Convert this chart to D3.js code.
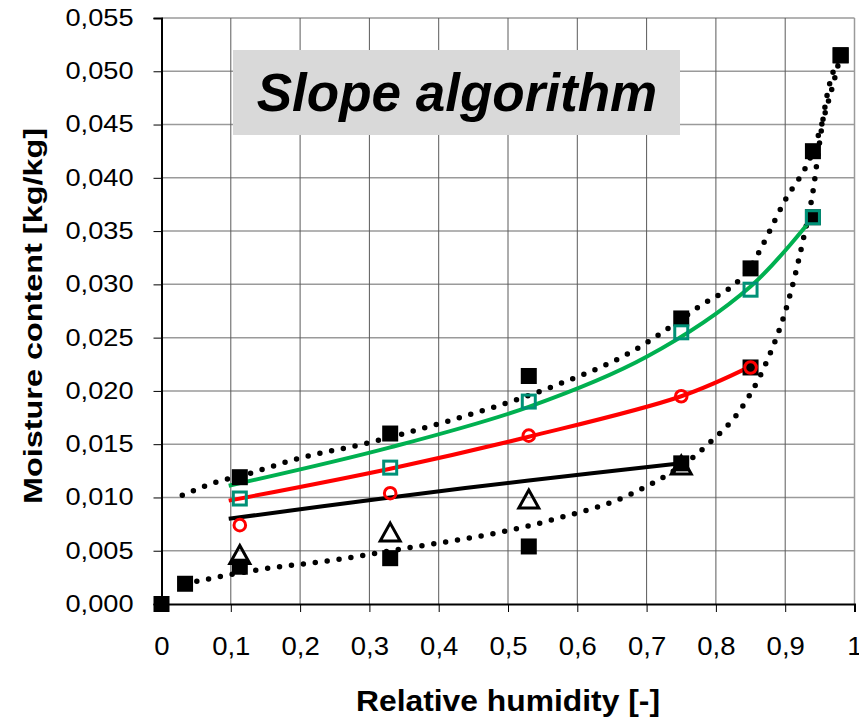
<!DOCTYPE html>
<html>
<head>
<meta charset="utf-8">
<script src="https://cdn.jsdelivr.net/npm/d3@7"></script>
<style>
  body { margin: 0; background: #fff; }
  svg { display: block; font-family: "Liberation Sans", Arial, sans-serif; }
</style>
</head>
<body>
<script>
// tick values on both axes
var xTicks = [0, 0.1, 0.2, 0.3, 0.4, 0.5, 0.6, 0.7, 0.8, 0.9, 1];
var yTicks = [0, 0.005, 0.010, 0.015, 0.020, 0.025, 0.030, 0.035, 0.040, 0.045, 0.050, 0.055];

// measured points (filled black squares)
var upperRH = [0.113, 0.33, 0.53, 0.75, 0.85, 0.94, 0.98];
var upperMC = [0.0119, 0.0160, 0.0214, 0.0268, 0.0315, 0.0425, 0.0515];
var lowerRH = [0, 0.034, 0.113, 0.33, 0.53, 0.75, 0.85, 0.94, 0.98];
var lowerMC = [0, 0.0019, 0.0035, 0.0043, 0.0054, 0.0132, 0.0222, 0.0363, 0.0515];

// dotted envelope curves
var upperCurveRH = [0.03, 0.082, 0.113, 0.20, 0.297, 0.415, 0.56, 0.679, 0.773, 0.849, 0.90, 0.94, 0.965, 0.98];
var upperCurveMC = [0.0102, 0.0115, 0.0120, 0.0137, 0.0151, 0.0172, 0.0203, 0.0237, 0.0278, 0.0316, 0.0379, 0.0425, 0.0478, 0.0515];
var lowerCurveRH = [0.034, 0.138, 0.247, 0.359, 0.486, 0.575, 0.68, 0.787, 0.838, 0.873, 0.904, 0.926, 0.9405, 0.95, 0.96, 0.98];
var lowerCurveMC = [0.0019, 0.0032, 0.0041, 0.0053, 0.0067, 0.0081, 0.0104, 0.0149, 0.0185, 0.0227, 0.0283, 0.0342, 0.0389, 0.0435, 0.0476, 0.0515];

// green scan (teal open squares)
var tealRH = [0.113, 0.33, 0.53, 0.75, 0.85, 0.94];
var tealMC = [0.0099, 0.0128, 0.0190, 0.0255, 0.0295, 0.0363];
var greenRH = [0.097, 0.33, 0.53, 0.70, 0.85, 0.94];
var greenMC = [0.0111, 0.0147, 0.0185, 0.0232, 0.0298, 0.0363];

// red scan (open circles)
var circRH = [0.113, 0.33, 0.53, 0.75, 0.85];
var circMC = [0.0074, 0.0104, 0.0158, 0.0195, 0.0222];
var redRH = [0.097, 0.33, 0.53, 0.75, 0.85];
var redMC = [0.0097, 0.0127, 0.0157, 0.0195, 0.0223];

// black scan (open triangles)
var triRH = [0.113, 0.33, 0.53, 0.75];
var triMC = [0.0046, 0.0067, 0.0098, 0.0130];
var blackRH = [0.097, 0.33, 0.53, 0.75];
var blackMC = [0.0080, 0.0100, 0.0116, 0.0132];

function pts(a, b) { return a.map(function (v, i) { return [v, b[i]]; }); }
function comma(v, n) { return d3.format("." + n + "f")(v).replace(".", ","); }

var svg = d3.select("body").append("svg")
  .attr("width", 859)
  .attr("height", 720);

var x = d3.scaleLinear().domain([0, 1]).range([161.5, 854.5]);
var y = d3.scaleLinear().domain([0, 0.055]).range([604, 18]);

//grid: horizontal light grey, vertical darker
svg.append("g").selectAll("line")
  .data(yTicks.slice(1)).enter().append("line")
  .attr("x1", x(0)).attr("x2", x(1))
  .attr("y1", function (d) { return y(d); })
  .attr("y2", function (d) { return y(d); })
  .attr("stroke", "#9a9a9a").attr("stroke-width", 1.5);
svg.append("g").selectAll("line")
  .data(xTicks.slice(1)).enter().append("line")
  .attr("x1", function (d) { return x(d); })
  .attr("x2", function (d) { return x(d); })
  .attr("y1", y(0)).attr("y2", y(0.055))
  .attr("stroke", function (d) { return d === 1 ? "#9a9a9a" : "#5a5a5a"; })
  .attr("stroke-width", function (d) { return d === 1 ? 1.5 : 1; });

//axes
var yAxis = svg.append("g")
  .attr("transform", "translate(" + x(0) + ",0)")
  .call(d3.axisLeft(y).tickValues(yTicks).tickSize(8).tickPadding(20)
    .tickFormat(function (d) { return comma(d, 3); }));
var xAxis = svg.append("g")
  .attr("transform", "translate(0," + y(0) + ")")
  .call(d3.axisBottom(x).tickValues(xTicks).tickSize(8).tickPadding(0)
    .tickFormat(function (d) { return d === 0 || d === 1 ? String(d) : comma(d, 1); }));

[yAxis, xAxis].forEach(function (g) {
  g.select(".domain").attr("stroke", "#000").attr("stroke-width", 2);
  g.selectAll(".tick line").attr("stroke", "#000").attr("stroke-width", 1);
});
yAxis.selectAll(".tick text")
  .attr("font-size", 23).attr("fill", "#000")
  .attr("textLength", 68).attr("lengthAdjust", "spacingAndGlyphs");
xAxis.selectAll(".tick text")
  .attr("font-size", 25).attr("fill", "#000")
  .attr("dy", null).attr("y", 51)
  .attr("transform", "scale(1.1,1)");

//title box
svg.append("rect")
  .attr("x", 233).attr("y", 50).attr("width", 447).attr("height", 85)
  .attr("fill", "#d9d9d9");
svg.append("text")
  .attr("x", 457).attr("y", 111)
  .attr("text-anchor", "middle")
  .attr("font-size", 53).attr("font-weight", "bold").attr("font-style", "italic")
  .text("Slope algorithm");

//axis titles
svg.append("text")
  .attr("x", x(0.5)).attr("y", 711)
  .attr("text-anchor", "middle")
  .attr("font-size", 29).attr("font-weight", "bold")
  .attr("textLength", 304).attr("lengthAdjust", "spacingAndGlyphs")
  .text("Relative humidity [-]");
svg.append("text")
  .attr("transform", "translate(42,316) rotate(-90)")
  .attr("text-anchor", "middle")
  .attr("font-size", 26).attr("font-weight", "bold")
  .attr("textLength", 376).attr("lengthAdjust", "spacingAndGlyphs")
  .text("Moisture content [kg/kg]");

var line = d3.line()
  .x(function (d) { return x(d[0]); })
  .y(function (d) { return y(d[1]); })
  .curve(d3.curveMonotoneX);

var smooth = d3.line()
  .x(function (d) { return x(d[0]); })
  .y(function (d) { return y(d[1]); })
  .curve(d3.curveCatmullRom.alpha(0.5));

//dotted envelopes
[pts(upperCurveRH, upperCurveMC), pts(lowerCurveRH, lowerCurveMC)].forEach(function (p) {
  svg.append("path").datum(p)
    .attr("d", line)
    .attr("fill", "none").attr("stroke", "#000")
    .attr("stroke-width", 5.5).attr("stroke-linecap", "round")
    .attr("stroke-dasharray", "0 12");
});

//scan lines
var scans = [
  { p: pts(blackRH, blackMC), c: "#000" },
  { p: pts(redRH, redMC), c: "#ff0000" },
  { p: pts(greenRH, greenMC), c: "#00b050" }
];
scans.forEach(function (s) {
  svg.append("path").datum(s.p)
    .attr("d", smooth)
    .attr("fill", "none").attr("stroke", s.c).attr("stroke-width", 4);
});

//black squares
svg.append("g").selectAll("rect")
  .data(pts(upperRH, upperMC).concat(pts(lowerRH, lowerMC)))
  .enter().append("rect")
  .attr("x", function (d) { return x(d[0]) - 8; })
  .attr("y", function (d) { return y(d[1]) - 8; })
  .attr("width", 16).attr("height", 16)
  .attr("fill", "#000");

//teal open squares
svg.append("g").selectAll("rect")
  .data(pts(tealRH, tealMC)).enter().append("rect")
  .attr("x", function (d) { return x(d[0]) - 6.5; })
  .attr("y", function (d) { return y(d[1]) - 6.5; })
  .attr("width", 13).attr("height", 13)
  .attr("fill", "none").attr("stroke", "#009177").attr("stroke-width", 3);

//red open circles
svg.append("g").selectAll("circle")
  .data(pts(circRH, circMC)).enter().append("circle")
  .attr("cx", function (d) { return x(d[0]); })
  .attr("cy", function (d) { return y(d[1]); })
  .attr("r", 5.8)
  .attr("fill", "none").attr("stroke", "#ff0000").attr("stroke-width", 3);

//open triangles
svg.append("g").selectAll("path")
  .data(pts(triRH, triMC)).enter().append("path")
  .attr("d", function (d) {
    var cx = x(d[0]), cy = y(d[1]);
    return "M" + cx + "," + (cy - 9.5) + "L" + (cx + 10) + "," + (cy + 8.5) + "L" + (cx - 10) + "," + (cy + 8.5) + "Z";
  })
  .attr("fill", "none").attr("stroke", "#000").attr("stroke-width", 3)
  .attr("stroke-linejoin", "miter");
</script>
</body>
</html>
